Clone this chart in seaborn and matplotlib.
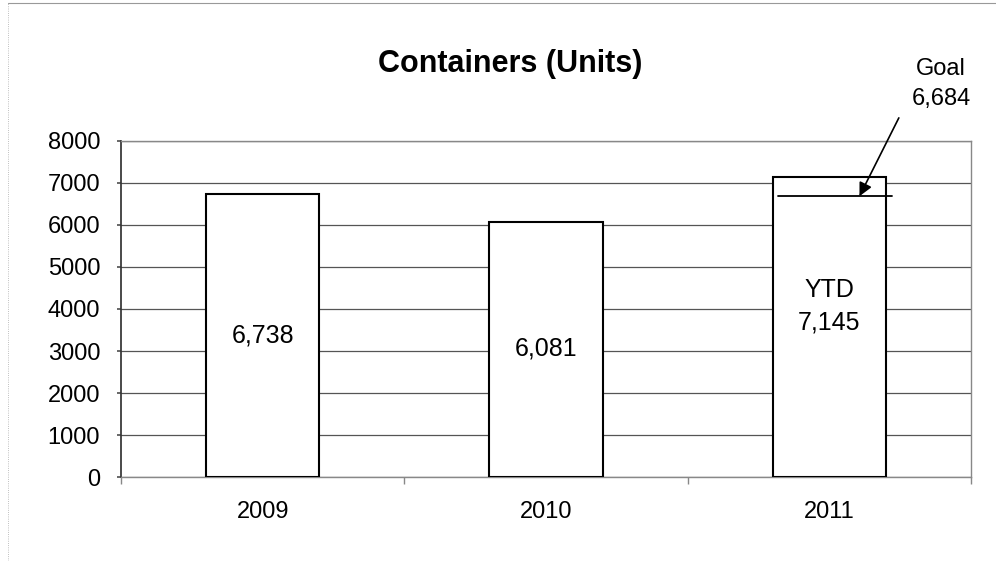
import matplotlib
matplotlib.use("Agg")
import matplotlib.pyplot as plt
import seaborn as sns
import pandas as pd

# ---------------------------
# Data
# ---------------------------
years = ["2009", "2010", "2011"]
units = [6738, 6081, 7145]
bar_labels = ["6,738", "6,081", "YTD\n7,145"]
label_y = [3380, 3050, 4060]
goal_2011 = 6684
goal_label = "Goal\n6,684"

df = pd.DataFrame({"year": years, "units": units})

sns.set_theme(style="white")
plt.rcParams['font.family'] = ['Liberation Sans', 'DejaVu Sans']
plt.rcParams['text.color'] = 'black'

fig = plt.figure(figsize=(9.96, 5.61), dpi=100)
ax = fig.add_axes([0.1215, 0.1497, 0.8535, 0.599])

sns.barplot(data=df, x="year", y="units", order=years, color="white",
            edgecolor="black", linewidth=1.5, width=0.4, saturation=1, ax=ax, zorder=3)

ax.set_ylim(0, 8000)
ax.set_xlim(-0.5, 2.5)
ax.set_yticks(range(0, 8001, 1000))
ax.yaxis.grid(True, color="#555555", linewidth=0.9)
ax.set_axisbelow(True)
ax.set_xlabel("")
ax.set_ylabel("")

# frame
for side in ["top", "right", "bottom"]:
    ax.spines[side].set_color("#888888")
    ax.spines[side].set_linewidth(1.0)
ax.spines["left"].set_color("#333333")

# ticks: y outside, x ticks at category boundaries
ax.tick_params(axis="y", which="major", left=True, length=3, color="#555555",
               labelsize=17, labelcolor="black", pad=12)
ax.tick_params(axis="x", which="major", length=0, labelsize=17,
               labelcolor="black", pad=17)
ax.set_xticks([-0.5, 0.5, 1.5, 2.5], minor=True)
ax.tick_params(axis="x", which="minor", bottom=True, length=5, color="#888888")

# labels inside the bars
for i, txt in enumerate(bar_labels):
    ax.text(i, label_y[i], txt, ha="center", va="center", fontsize=18,
            color="black", linespacing=1.45, zorder=5)

# goal line for 2011 and annotation
ax.plot([1.82, 2.22], [goal_2011, goal_2011], color="black", linewidth=1.3,
        zorder=4, clip_on=False)
ax.annotate("", xy=(2.106, goal_2011), xytext=(2.245, 8550),
            arrowprops=dict(arrowstyle="-|>", color="black", lw=1.2,
                            mutation_scale=20, shrinkA=0, shrinkB=0),
            annotation_clip=False, zorder=5)
fig.text(0.945, 0.850, goal_label, ha="center", va="center", fontsize=17,
         color="black", linespacing=1.45)

fig.text(0.512, 0.886, "Containers (Units)", ha="center", va="center",
         fontsize=22, fontweight="bold", color="black")

# thin chart-area border (top and left, as in the scan)
fig.add_artist(plt.Line2D([0.008, 1.0], [0.995, 0.995], color="#999999",
                          linewidth=0.8, transform=fig.transFigure))
fig.add_artist(plt.Line2D([0.008, 0.008], [0.0, 0.995], color="#aaaaaa",
                          linewidth=0.6, linestyle=":", transform=fig.transFigure))

fig.savefig("out.png", dpi=100)
